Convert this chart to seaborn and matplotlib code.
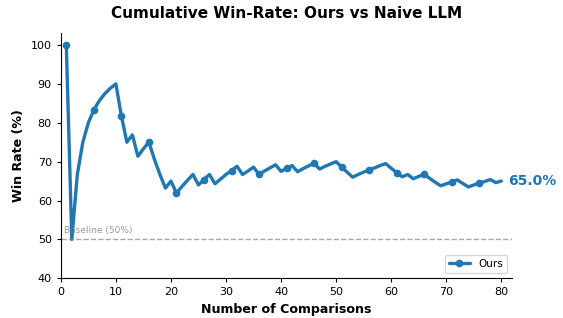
import numpy as np
import pandas as pd
import matplotlib
matplotlib.use("Agg")
import matplotlib.pyplot as plt
import seaborn as sns

# cumulative win-rate (%) after each comparison
comparisons = list(range(1, 81))
win_rate = [
    100.0, 50.0, 66.7, 75.0, 80.0, 83.3, 85.7, 87.5, 88.9, 90.0,
    81.8, 75.0, 76.9, 71.4, 73.3, 75.0, 70.6, 66.7, 63.2, 65.0,
    61.9, 63.6, 65.2, 66.7, 64.0, 65.4, 66.7, 64.3, 65.5, 66.7,
    67.7, 68.8, 66.7, 67.6, 68.6, 66.7, 67.6, 68.4, 69.2, 67.5,
    68.3, 69.0, 67.4, 68.2, 68.9, 69.6, 68.1, 68.8, 69.4, 70.0,
    68.6, 67.3, 66.0, 66.7, 67.3, 67.9, 68.4, 69.0, 69.5, 68.3,
    67.2, 66.1, 66.7, 65.6, 66.2, 66.7, 65.7, 64.7, 63.8, 64.3,
    64.8, 65.3, 64.4, 63.5, 64.0, 64.5, 64.9, 65.4, 64.6, 65.0,
]
baseline = 50.0

df = pd.DataFrame({"n": comparisons, "rate": win_rate})

sns.set_style("ticks", {"axes.edgecolor": "black", "text.color": "black",
                        "axes.labelcolor": "black", "xtick.color": "black",
                        "ytick.color": "black"})
fig, ax = plt.subplots(figsize=(5.63, 3.18), dpi=100)

sns.lineplot(data=df, x="n", y="rate", ax=ax, color="#1f77b4", linewidth=2.4,
             marker="o", markersize=5.5, markeredgewidth=0, markevery=5, label="Ours")

ax.axhline(baseline, color="gray", linestyle="--", linewidth=1, alpha=0.7)
ax.text(0.5, baseline + 1, "Baseline (50%)", color="gray", fontsize=6.5, alpha=0.8, va="bottom")

ax.annotate(f"{win_rate[-1]:.1f}%", xy=(comparisons[-1], win_rate[-1]),
            xytext=(5, 0), textcoords="offset points", va="center", ha="left",
            fontsize=10, fontweight="bold", color="#1f77b4")

ax.set_xlim(0, 82)
ax.set_ylim(40, 103)
ax.set_title("Cumulative Win-Rate: Ours vs Naive LLM", fontsize=11, fontweight="bold", pad=11)
ax.set_xlabel("Number of Comparisons", fontsize=9.1, fontweight="bold")
ax.set_ylabel("Win Rate (%)", fontsize=9.1, fontweight="bold")
ax.tick_params(labelsize=8, length=3)
ax.legend(loc="lower right", fontsize=7.5)
sns.despine()

plt.subplots_adjust(left=0.108, right=0.91, top=0.895, bottom=0.125)
plt.savefig("out.png", dpi=100)
